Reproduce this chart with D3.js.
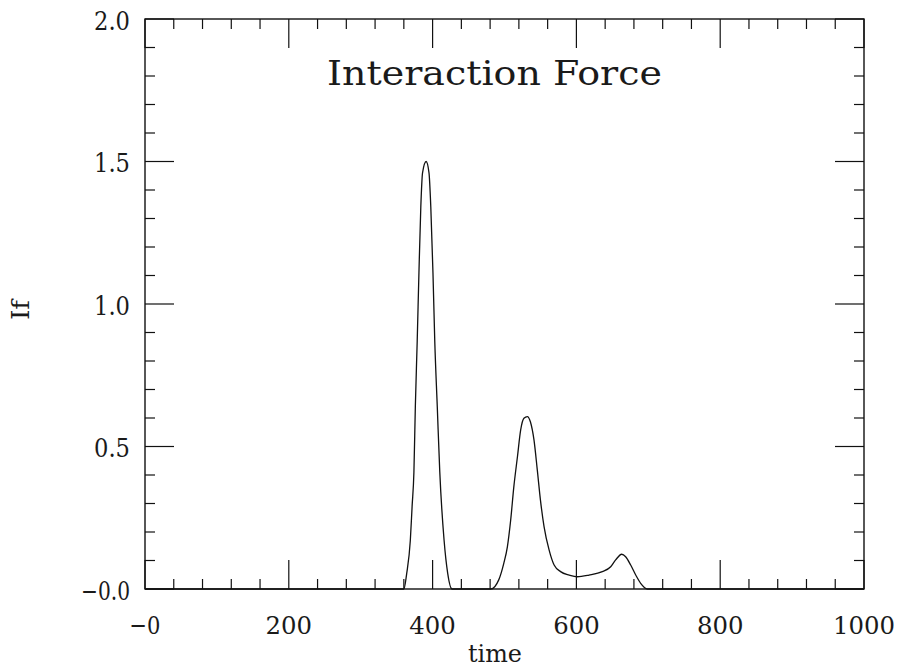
<!DOCTYPE html>
<html>
<head>
<meta charset="utf-8">
<script src="https://cdn.jsdelivr.net/npm/d3@7"></script>
<style>
  html, body { margin: 0; padding: 0; background: #fff; }
  svg { display: block; }
  text { font-family: "DejaVu Serif", "Liberation Serif", serif; fill: #1a1a1a; }
</style>
</head>
<body>
<svg id="chart" width="898" height="668"></svg>
<script>
// ---- data ----
const time = [0, 360, 364, 369, 371.5, 374, 376, 378.6, 381, 383.6, 386, 391, 395, 397.5, 400.5, 403, 406.5, 410, 416, 421, 427,
  481, 492, 499, 504, 508.6, 513, 518, 522.5, 527, 531.8, 536, 541, 545.6, 550, 555, 562, 569, 578, 590, 601, 617.5, 636, 647.7, 654.6, 663, 668.5, 675.5, 682.5, 689.4, 698.6, 1000];
const force = [0, 0, 0.055, 0.17, 0.29, 0.41, 0.64, 0.87, 1.11, 1.34, 1.46, 1.50, 1.46, 1.34, 1.11, 0.87, 0.64, 0.41, 0.17, 0.055, 0,
  0, 0.032, 0.09, 0.148, 0.242, 0.359, 0.464, 0.558, 0.599, 0.605, 0.587, 0.523, 0.418, 0.312, 0.219, 0.137, 0.084, 0.061, 0.049, 0.043, 0.049, 0.061, 0.078, 0.102, 0.122, 0.113, 0.084, 0.049, 0.02, 0, 0];
const xMajorTicks = [0, 200, 400, 600, 800, 1000];
const xTickLabels = ["\u22120", "200", "400", "600", "800", "1000"];
const yMajorTicks = [0, 0.5, 1.0, 1.5, 2.0];
const yTickLabels = ["\u22120.0", "0.5", "1.0", "1.5", "2.0"];
const titleText = "Interaction Force";
const xLabel = "time";
const yLabel = "If";

// ---- layout ----
const svg = d3.select("#chart");
const L = 145, R = 864, T = 19, B = 589;
const x = d3.scaleLinear().domain([0, 1000]).range([L, R]);
const y = d3.scaleLinear().domain([0, 2]).range([B, T]);
const xMinor = d3.range(0, 1000.1, 40);
const yMinor = d3.range(0, 2.001, 0.1);
const majorLen = 29, minorLen = 10;

const g = svg.append("g");

// frame
g.append("rect").attr("x", L).attr("y", T).attr("width", R - L).attr("height", B - T)
  .attr("fill", "none").attr("stroke", "#111").attr("stroke-width", 1.4);

const isMajorX = v => xMajorTicks.some(m => Math.abs(m - v) < 1e-6);
const isMajorY = v => yMajorTicks.some(m => Math.abs(m - v) < 1e-6);

// x ticks: bottom (up) and top (down)
xMinor.forEach(v => {
  const len = isMajorX(v) ? majorLen : minorLen;
  const px = x(v);
  g.append("line").attr("x1", px).attr("x2", px).attr("y1", B).attr("y2", B - len)
    .attr("stroke", "#111").attr("stroke-width", 1.2);
  g.append("line").attr("x1", px).attr("x2", px).attr("y1", T).attr("y2", T + len)
    .attr("stroke", "#111").attr("stroke-width", 1.2);
});
// y ticks: left (right) and right (left)
yMinor.forEach(v => {
  const len = isMajorY(v) ? majorLen : minorLen;
  const py = y(v);
  g.append("line").attr("x1", L).attr("x2", L + len).attr("y1", py).attr("y2", py)
    .attr("stroke", "#111").attr("stroke-width", 1.2);
  g.append("line").attr("x1", R).attr("x2", R - len).attr("y1", py).attr("y2", py)
    .attr("stroke", "#111").attr("stroke-width", 1.2);
});

// tick labels
const charW = s => Array.from(s).reduce((a, c) => a + (c === "." ? 9 : 15.5), 0);
xMajorTicks.forEach((v, i) => {
  const s = xTickLabels[i];
  g.append("text").attr("x", x(v)).attr("y", 634).attr("text-anchor", "middle")
    .attr("font-size", 25).attr("textLength", charW(s)).attr("lengthAdjust", "spacingAndGlyphs")
    .text(s);
});
const charWy = s => Array.from(s).reduce((a, c) => a + (c === "." ? 10 : 13), 0);
yMajorTicks.forEach((v, i) => {
  const s = yTickLabels[i];
  g.append("text").attr("x", 130).attr("y", y(v) + 10.5).attr("text-anchor", "end")
    .attr("font-size", 26).attr("textLength", charWy(s)).attr("lengthAdjust", "spacingAndGlyphs")
    .text(s);
});

// title
g.append("text").attr("x", 494.5).attr("y", 85).attr("text-anchor", "middle")
  .attr("font-size", 34).attr("textLength", 335).attr("lengthAdjust", "spacingAndGlyphs")
  .text(titleText);

// axis titles
g.append("text").attr("x", 495).attr("y", 662).attr("text-anchor", "middle")
  .attr("font-size", 25).attr("textLength", 54).attr("lengthAdjust", "spacingAndGlyphs")
  .text(xLabel);
g.append("text").attr("transform", "translate(29,310) rotate(-90)").attr("text-anchor", "middle")
  .attr("font-size", 25).attr("textLength", 20).attr("lengthAdjust", "spacingAndGlyphs")
  .text(yLabel);

// curve
const data = time.map((t, i) => ({ t, f: force[i] }));
const line = d3.line().x(d => x(d.t)).y(d => y(d.f)).curve(d3.curveMonotoneX);
g.append("path").datum(data).attr("d", line)
  .attr("fill", "none").attr("stroke", "#111").attr("stroke-width", 1.3);
</script>
</body>
</html>
